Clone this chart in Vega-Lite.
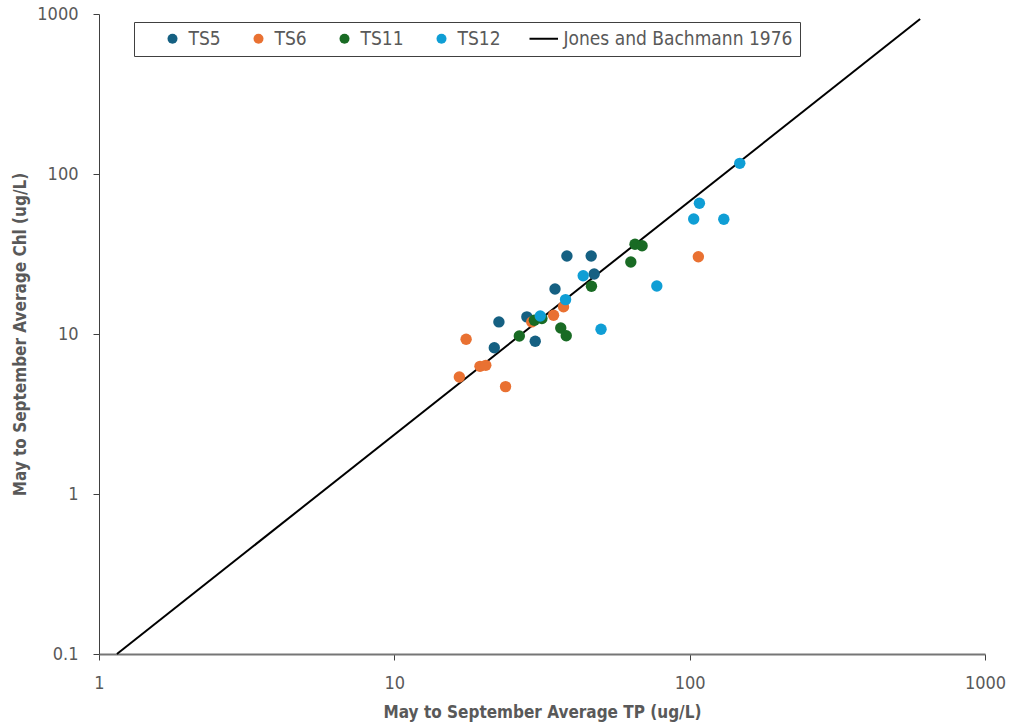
{
  "$schema": "https://vega.github.io/schema/vega-lite/v6.json",
  "width": 886,
  "height": 640,
  "autosize": {"type": "none"},
  "padding": {"left": 99, "top": 14, "right": 26, "bottom": 71},
  "background": "white",
  "config": {
    "view": {"stroke": null},
    "font": "DejaVu Sans Condensed, sans-serif",
    "axis": {
      "grid": false,
      "labelFont": "DejaVu Sans Condensed, sans-serif",
      "titleFont": "DejaVu Sans Condensed, sans-serif",
      "labelFontSize": 18,
      "labelColor": "#595959",
      "titleFontSize": 17,
      "titleFontWeight": "bold",
      "titleColor": "#595959",
      "tickSize": 6,
      "tickColor": "#404040",
      "labelFlush": false,
      "labelOverlap": false
    }
  },
  "datasets": {
    "points": [
      {"series": "TS5", "tp": 22.6, "chl": 11.9},
      {"series": "TS5", "tp": 21.8, "chl": 8.2},
      {"series": "TS5", "tp": 28.1, "chl": 12.8},
      {"series": "TS5", "tp": 30.0, "chl": 9.0},
      {"series": "TS5", "tp": 35.0, "chl": 19.1},
      {"series": "TS5", "tp": 38.4, "chl": 30.7},
      {"series": "TS5", "tp": 46.4, "chl": 30.7},
      {"series": "TS5", "tp": 47.5, "chl": 23.7},
      {"series": "TS6", "tp": 107, "chl": 30.4},
      {"series": "TS6", "tp": 17.5, "chl": 9.27},
      {"series": "TS6", "tp": 16.6, "chl": 5.39},
      {"series": "TS6", "tp": 19.5, "chl": 6.28},
      {"series": "TS6", "tp": 20.4, "chl": 6.37},
      {"series": "TS6", "tp": 23.8, "chl": 4.69},
      {"series": "TS6", "tp": 29.2, "chl": 11.9},
      {"series": "TS6", "tp": 34.6, "chl": 13.1},
      {"series": "TS6", "tp": 37.4, "chl": 14.8},
      {"series": "TS11", "tp": 26.5, "chl": 9.72},
      {"series": "TS11", "tp": 29.8, "chl": 12.2},
      {"series": "TS11", "tp": 31.6, "chl": 12.5},
      {"series": "TS11", "tp": 36.6, "chl": 10.9},
      {"series": "TS11", "tp": 38.2, "chl": 9.76},
      {"series": "TS11", "tp": 46.5, "chl": 19.9},
      {"series": "TS11", "tp": 63.2, "chl": 28.2},
      {"series": "TS11", "tp": 65.3, "chl": 36.4},
      {"series": "TS11", "tp": 69.0, "chl": 35.6},
      {"series": "TS12", "tp": 31.2, "chl": 12.96},
      {"series": "TS12", "tp": 38.0, "chl": 16.4},
      {"series": "TS12", "tp": 43.6, "chl": 23.1},
      {"series": "TS12", "tp": 50.1, "chl": 10.7},
      {"series": "TS12", "tp": 77.4, "chl": 19.95},
      {"series": "TS12", "tp": 147.8, "chl": 116.6},
      {"series": "TS12", "tp": 107.9, "chl": 65.6},
      {"series": "TS12", "tp": 103.2, "chl": 52.3},
      {"series": "TS12", "tp": 130.5, "chl": 52.1}
    ],
    "line": [
      {"series": "Jones and Bachmann 1976", "tp": 1.15, "chl": 0.1},
      {"series": "Jones and Bachmann 1976", "tp": 603, "chl": 931}
    ]
  },
  "encoding": {
    "x": {
      "field": "tp",
      "type": "quantitative",
      "scale": {"type": "log", "domain": [1, 1000], "nice": false},
      "axis": {
        "title": "May to September Average TP (ug/L)",
        "values": [1, 10, 100, 1000],
        "format": "~g",
        "domainColor": "#767676",
        "domainWidth": 2,
        "labelPadding": 14,
        "titlePadding": 12
      }
    },
    "y": {
      "field": "chl",
      "type": "quantitative",
      "scale": {"type": "log", "domain": [0.1, 1000], "nice": false},
      "axis": {
        "title": "May to September Average Chl (ug/L)",
        "values": [0.1, 1, 10, 100, 1000],
        "format": "~g",
        "domainColor": "#404040",
        "domainWidth": 1,
        "labelPadding": 15,
        "titlePadding": 7
      }
    }
  },
  "layer": [
    {
      "data": {"name": "line"},
      "mark": {"type": "line", "color": "black", "strokeWidth": 2}
    },
    {
      "data": {"name": "points"},
      "mark": {"type": "point", "filled": true, "opacity": 1, "size": 130},
      "encoding": {
        "color": {
          "field": "series",
          "type": "nominal",
          "scale": {
            "domain": ["TS5", "TS6", "TS11", "TS12", "Jones and Bachmann 1976"],
            "range": ["#156082", "#E97132", "#196B24", "#0F9ED5", "#000000"]
          },
          "legend": {
            "orient": "none",
            "legendX": 35,
            "legendY": 8,
            "direction": "horizontal",
            "title": " ",
            "titleOrient": "left",
            "titleFontSize": 1,
            "titlePadding": 22,
            "padding": 7,
            "strokeColor": "#404040",
            "fillColor": "white",
            "labelFontSize": 19,
            "labelColor": "#595959",
            "labelFont": "DejaVu Sans Condensed, sans-serif",
            "labelOffset": 6.5,
            "labelLimit": 400,
            "columnPadding": 28,
            "symbolSize": 100,
            "labelExpr": "datum.label == 'Jones and Bachmann 1976' ? datum.label + '\u00a0' : datum.label"
          }
        },
        "shape": {
          "field": "series",
          "type": "nominal",
          "scale": {
            "domain": ["TS5", "TS6", "TS11", "TS12", "Jones and Bachmann 1976"],
            "range": ["circle", "circle", "circle", "circle", "M-3.6,-0.2H2.1V0.2H-3.6Z"]
          }
        }
      }
    }
  ]
}
